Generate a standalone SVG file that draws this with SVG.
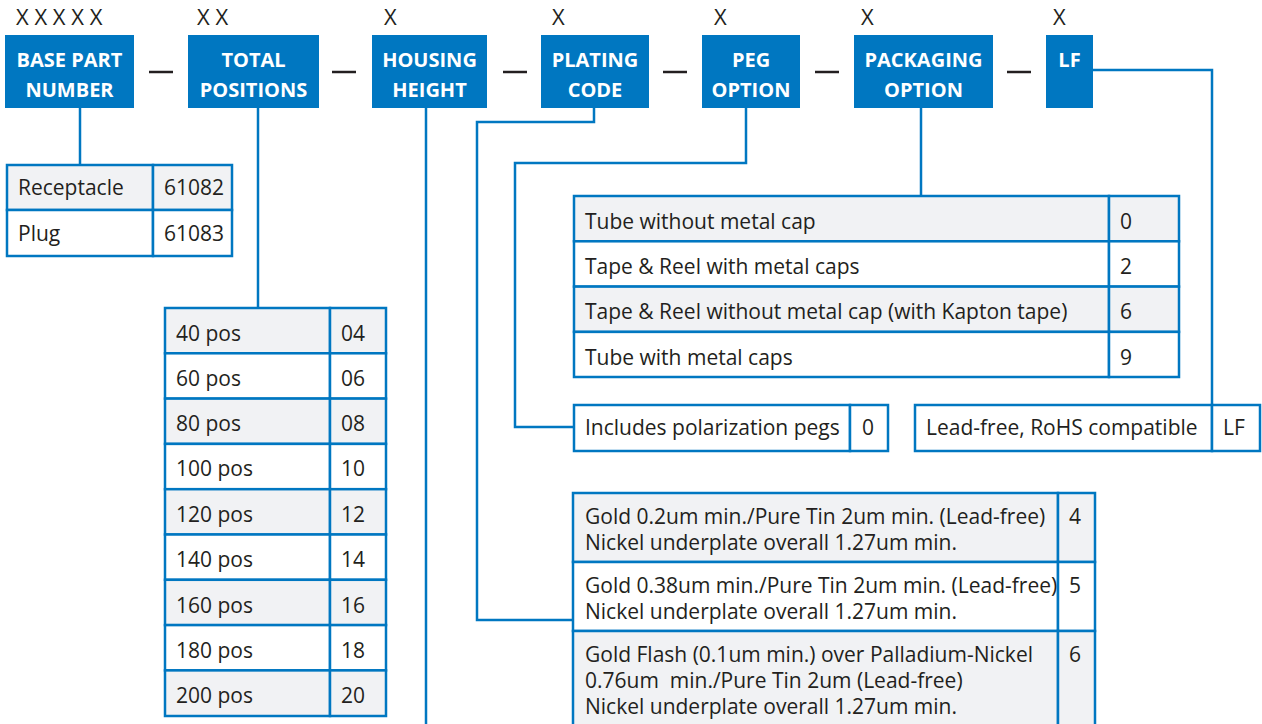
<svg xmlns="http://www.w3.org/2000/svg" width="1262" height="724" viewBox="0 0 1262 724">
<style>
.hdr{fill:#0077c1}
.ht{font-family:"Open Sans","Noto Sans",sans-serif;font-weight:bold;font-size:20px;fill:#fff;text-anchor:middle}
.x{font-family:"Open Sans","Noto Sans",sans-serif;font-size:22px;fill:#231f20}
.t{font-family:"Open Sans","Noto Sans",sans-serif;font-size:21px;fill:#231f20}
.cell{stroke:#0077c1;stroke-width:2.5}
.g{fill:#f1f2f4}
.w{fill:#fff}
.ln{fill:none;stroke:#0077c1;stroke-width:2.5}
.dash{stroke:#231f20;stroke-width:2.5}
</style>
<rect width="1262" height="724" fill="#fff"/>
<g id="labels">
<text class="x" x="16" y="25">X X X X X</text>
<text class="x" x="197" y="25">X X</text>
<text class="x" x="384" y="25">X</text>
<text class="x" x="552" y="25">X</text>
<text class="x" x="714" y="25">X</text>
<text class="x" x="861" y="25">X</text>
<text class="x" x="1053" y="25">X</text>
<line class="dash" x1="149" y1="72" x2="173" y2="72"/>
<line class="dash" x1="332" y1="72" x2="356" y2="72"/>
<line class="dash" x1="503" y1="72" x2="527" y2="72"/>
<line class="dash" x1="663" y1="72" x2="687" y2="72"/>
<line class="dash" x1="815" y1="72" x2="839" y2="72"/>
<line class="dash" x1="1007" y1="72" x2="1031" y2="72"/>
</g>
<g id="connectors">
<path class="ln" d="M80 108V165"/>
<path class="ln" d="M258 108V308"/>
<path class="ln" d="M426 108V724"/>
<path class="ln" d="M594 108V122H477V620H573"/>
<path class="ln" d="M746 108V163H515V427H574"/>
<path class="ln" d="M921 108V196"/>
<path class="ln" d="M1093 70H1212V405"/>
</g>
<g id="base">
<rect class="hdr" x="5" y="35" width="129" height="73"/>
<text class="ht" x="69.5" y="67">BASE PART</text>
<text class="ht" x="69.5" y="97">NUMBER</text>
</g>
<g id="total">
<rect class="hdr" x="188" y="35" width="131" height="73"/>
<text class="ht" x="253.5" y="67">TOTAL</text>
<text class="ht" x="253.5" y="97">POSITIONS</text>
</g>
<g id="housing">
<rect class="hdr" x="372" y="35" width="115" height="73"/>
<text class="ht" x="429.5" y="67">HOUSING</text>
<text class="ht" x="429.5" y="97">HEIGHT</text>
</g>
<g id="plating">
<rect class="hdr" x="541" y="35" width="108" height="73"/>
<text class="ht" x="595" y="67">PLATING</text>
<text class="ht" x="595" y="97">CODE</text>
</g>
<g id="peg">
<rect class="hdr" x="702" y="35" width="98" height="73"/>
<text class="ht" x="751" y="67">PEG</text>
<text class="ht" x="751" y="97">OPTION</text>
</g>
<g id="packaging">
<rect class="hdr" x="854" y="35" width="139" height="73"/>
<text class="ht" x="923.5" y="67">PACKAGING</text>
<text class="ht" x="923.5" y="97">OPTION</text>
</g>
<g id="lf">
<rect class="hdr" x="1046" y="35" width="47" height="73"/>
<text class="ht" x="1069.5" y="67">LF</text>
</g>
<g id="base-table">
<rect class="cell g" x="7" y="165" width="146" height="45"/>
<rect class="cell g" x="153" y="165" width="79" height="45"/>
<rect class="cell w" x="7" y="210" width="146" height="46"/>
<rect class="cell w" x="153" y="210" width="79" height="46"/>
<text class="t" x="18" y="195">Receptacle</text>
<text class="t" x="164" y="195">61082</text>
<text class="t" x="18" y="241">Plug</text>
<text class="t" x="164" y="241">61083</text>
</g>
<g id="total-table">
<rect class="cell g" x="165" y="308" width="165" height="45.3"/><rect class="cell g" x="330" y="308" width="56" height="45.3"/>
<rect class="cell w" x="165" y="353.3" width="165" height="45.3"/><rect class="cell w" x="330" y="353.3" width="56" height="45.3"/>
<rect class="cell g" x="165" y="398.6" width="165" height="45.3"/><rect class="cell g" x="330" y="398.6" width="56" height="45.3"/>
<rect class="cell w" x="165" y="443.9" width="165" height="45.3"/><rect class="cell w" x="330" y="443.9" width="56" height="45.3"/>
<rect class="cell g" x="165" y="489.2" width="165" height="45.3"/><rect class="cell g" x="330" y="489.2" width="56" height="45.3"/>
<rect class="cell w" x="165" y="534.5" width="165" height="45.3"/><rect class="cell w" x="330" y="534.5" width="56" height="45.3"/>
<rect class="cell g" x="165" y="579.8" width="165" height="45.3"/><rect class="cell g" x="330" y="579.8" width="56" height="45.3"/>
<rect class="cell w" x="165" y="625.1" width="165" height="45.3"/><rect class="cell w" x="330" y="625.1" width="56" height="45.3"/>
<rect class="cell g" x="165" y="670.4" width="165" height="45.6"/><rect class="cell g" x="330" y="670.4" width="56" height="45.6"/>
<text class="t" x="176" y="341">40 pos</text><text class="t" x="341" y="341">04</text>
<text class="t" x="176" y="386">60 pos</text><text class="t" x="341" y="386">06</text>
<text class="t" x="176" y="431">80 pos</text><text class="t" x="341" y="431">08</text>
<text class="t" x="176" y="476">100 pos</text><text class="t" x="341" y="476">10</text>
<text class="t" x="176" y="522">120 pos</text><text class="t" x="341" y="522">12</text>
<text class="t" x="176" y="567">140 pos</text><text class="t" x="341" y="567">14</text>
<text class="t" x="176" y="613">160 pos</text><text class="t" x="341" y="613">16</text>
<text class="t" x="176" y="658">180 pos</text><text class="t" x="341" y="658">18</text>
<text class="t" x="176" y="703">200 pos</text><text class="t" x="341" y="703">20</text>
</g>
<g id="packaging-table">
<rect class="cell g" x="574" y="196" width="535" height="45.3"/><rect class="cell g" x="1109" y="196" width="70" height="45.3"/>
<rect class="cell w" x="574" y="241.3" width="535" height="45.3"/><rect class="cell w" x="1109" y="241.3" width="70" height="45.3"/>
<rect class="cell g" x="574" y="286.6" width="535" height="45.3"/><rect class="cell g" x="1109" y="286.6" width="70" height="45.3"/>
<rect class="cell w" x="574" y="331.9" width="535" height="45.1"/><rect class="cell w" x="1109" y="331.9" width="70" height="45.1"/>
<text class="t" x="585" y="229">Tube without metal cap</text><text class="t" x="1120" y="229">0</text>
<text class="t" x="585" y="274">Tape &amp; Reel with metal caps</text><text class="t" x="1120" y="274">2</text>
<text class="t" x="585" y="319">Tape &amp; Reel without metal cap (with Kapton tape)</text><text class="t" x="1120" y="319">6</text>
<text class="t" x="585" y="365">Tube with metal caps</text><text class="t" x="1120" y="365">9</text>
</g>
<g id="peg-table">
<rect class="cell w" x="574" y="405" width="276" height="46"/><rect class="cell w" x="850" y="405" width="38" height="46"/>
<text class="t" x="585" y="435">Includes polarization pegs</text><text class="t" x="862" y="435">0</text>
</g>
<g id="lf-table">
<rect class="cell w" x="915" y="405" width="297" height="46"/><rect class="cell w" x="1212" y="405" width="48" height="46"/>
<text class="t" x="926" y="435">Lead-free, RoHS compatible</text><text class="t" x="1223" y="435">LF</text>
</g>
<g id="plating-table">
<rect class="cell g" x="573" y="493" width="485" height="69"/><rect class="cell g" x="1058" y="493" width="37" height="69"/>
<rect class="cell w" x="573" y="562" width="485" height="69"/><rect class="cell w" x="1058" y="562" width="37" height="69"/>
<rect class="cell g" x="573" y="631" width="485" height="100"/><rect class="cell g" x="1058" y="631" width="37" height="100"/>
<text class="t" x="585" y="524">Gold 0.2um min./Pure Tin 2um min. (Lead-free)</text>
<text class="t" x="585" y="550">Nickel underplate overall 1.27um min.</text>
<text class="t" x="1069" y="524">4</text>
<text class="t" x="585" y="593">Gold 0.38um min./Pure Tin 2um min. (Lead-free)</text>
<text class="t" x="585" y="619">Nickel underplate overall 1.27um min.</text>
<text class="t" x="1069" y="593">5</text>
<text class="t" x="585" y="662">Gold Flash (0.1um min.) over Palladium-Nickel</text>
<text class="t" x="585" y="688" xml:space="preserve">0.76um  min./Pure Tin 2um (Lead-free)</text>
<text class="t" x="585" y="714">Nickel underplate overall 1.27um min.</text>
<text class="t" x="1069" y="662">6</text>
</g>
</svg>
